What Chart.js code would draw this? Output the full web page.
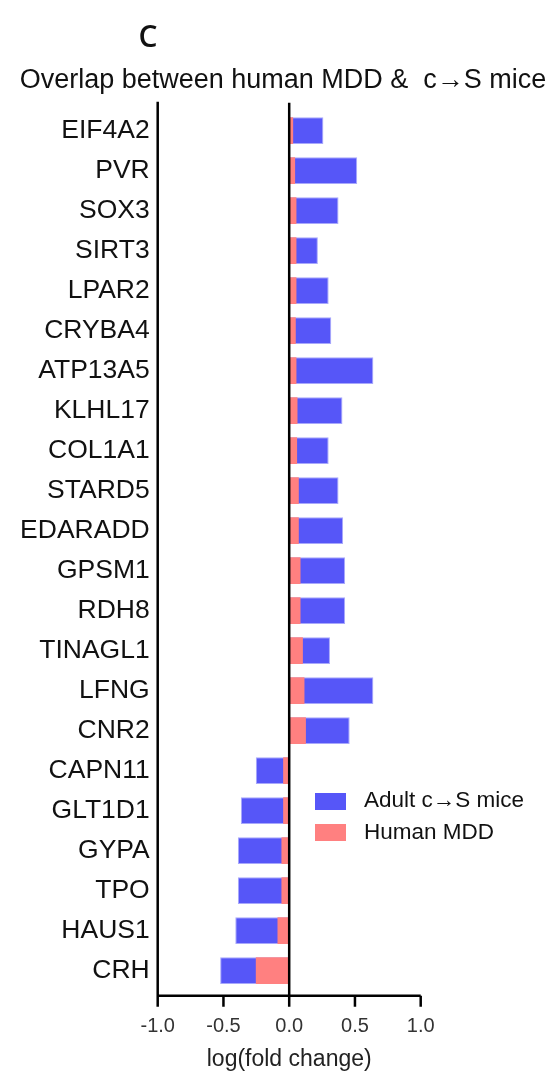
<!DOCTYPE html>
<html>
<head>
<meta charset="utf-8">
<script src="https://cdn.jsdelivr.net/npm/chart.js"></script>
<style>
    html, body { margin: 0; padding: 0; background: #fff; }
    #wrap { position: relative; width: 556px; height: 1076px; }
    .txt { position: absolute; white-space: nowrap; color: #111; }
    #panel { font-family: "Open Sans", sans-serif; font-size: 30px; font-weight: 600; line-height: 30px; left: 148px; top: 21px; transform: translateX(-50%); }
    #subtitle { font-family: "Liberation Sans", Arial, sans-serif; font-size: 27px; line-height: 27px; left: 283px; top: 66px; transform: translateX(-50%); }
    .lbox { position: absolute; width: 31px; height: 17px; left: 315px; }
    .ltxt { font-family: "Liberation Sans", Arial, sans-serif; font-size: 22.5px; line-height: 22px; left: 364px; }
</style>
</head>
<body>
<div id="wrap">
    <canvas id="barChart"></canvas>
    <div id="panel" class="txt">C</div>
    <div id="subtitle" class="txt">Overlap between human MDD &amp;&nbsp; c→S mice</div>
    <div class="lbox" style="top: 793px; background: #5656f8;"></div>
    <div class="ltxt txt" style="top: 789px;">Adult c→S mice</div>
    <div class="lbox" style="top: 824px; background: #ff8080;"></div>
    <div class="ltxt txt" style="top: 821px;">Human MDD</div>
</div>
<script>
// Гены (сверху вниз)
const genes = ['EIF4A2', 'PVR', 'SOX3', 'SIRT3', 'LPAR2', 'CRYBA4', 'ATP13A5', 'KLHL17', 'COL1A1', 'STARD5',
    'EDARADD', 'GPSM1', 'RDH8', 'TINAGL1', 'LFNG', 'CNR2', 'CAPN11', 'GLT1D1', 'GYPA', 'TPO', 'HAUS1', 'CRH'];

// log(fold change)
const miceValues = [0.26, 0.517, 0.375, 0.218, 0.30, 0.32, 0.64, 0.405, 0.30, 0.375,
    0.41, 0.425, 0.425, 0.31, 0.64, 0.46, -0.254, -0.368, -0.39, -0.39, -0.41, -0.525];
const humanValues = [0.03, 0.045, 0.055, 0.055, 0.055, 0.05, 0.055, 0.063, 0.06, 0.073,
    0.073, 0.086, 0.086, 0.104, 0.116, 0.127, -0.046, -0.046, -0.059, -0.059, -0.089, -0.254];

const xTicks = [-1, -0.5, 0, 0.5, 1];

const labelFont = "'Liberation Sans', Arial, sans-serif";

// Оси рисуем сами: линия слева, ноль и нижняя ось с засечками
const axisLines = {
    id: 'axisLines',
    afterDatasetsDraw(chart) {
        const {ctx, chartArea, scales} = chart;
        const xs = scales.x;
        const yAxis = chartArea.bottom + 5;
        ctx.save();
        ctx.strokeStyle = '#000';
        ctx.lineWidth = 2.5;
        ctx.beginPath();
        ctx.moveTo(chartArea.left, chartArea.top - 9);
        ctx.lineTo(chartArea.left, yAxis);
        ctx.lineTo(chartArea.right, yAxis);
        const x0 = xs.getPixelForValue(0);
        ctx.moveTo(x0, chartArea.top - 8);
        ctx.lineTo(x0, yAxis);
        xTicks.forEach(v => {
            const px = xs.getPixelForValue(v);
            ctx.moveTo(px, yAxis);
            ctx.lineTo(px, yAxis + 11);
        });
        ctx.stroke();
        ctx.restore();
    }
};

const barCtx = document.getElementById('barChart').getContext('2d');

const barChart = new Chart(barCtx, {
    type: 'bar',
    data: {
        labels: genes,
        datasets: [{
            label: 'Human MDD',
            data: humanValues,
            backgroundColor: '#ff8080',
            grouped: false,
            order: 0
        }, {
            label: 'Adult c→S mice',
            data: miceValues,
            backgroundColor: '#5656f8',
            borderColor: '#a8a8fb',
            borderWidth: 1,
            borderSkipped: 'start',
            grouped: false,
            order: 1
        }]
    },
    options: {
        indexAxis: 'y',
        responsive: true,
        maintainAspectRatio: false,
        animation: false,
        categoryPercentage: 1,
        barPercentage: 0.67,
        layout: {
            padding: {top: 110.7, right: 135.3, bottom: 0, left: 0}
        },
        plugins: {
            legend: {display: false},
            tooltip: {enabled: false}
        },
        scales: {
            y: {
                grid: {display: false, drawTicks: false},
                border: {display: false},
                ticks: {
                    color: '#111',
                    padding: 8,
                    font: {family: labelFont, size: 26.5}
                },
                afterFit(scale) { scale.width = 157.7; }
            },
            x: {
                min: -1,
                max: 1,
                grid: {display: false, drawTicks: false},
                border: {display: false},
                afterBuildTicks(scale) { scale.ticks = xTicks.map(v => ({value: v})); },
                ticks: {
                    color: '#333',
                    padding: 24,
                    font: {family: labelFont, size: 20},
                    callback: v => v.toFixed(1)
                },
                title: {
                    display: true,
                    text: 'log(fold change)',
                    color: '#222',
                    padding: {top: 0, bottom: 3},
                    font: {family: labelFont, size: 23}
                },
                afterFit(scale) { scale.height = 85.3; }
            }
        }
    },
    plugins: [axisLines]
});
</script>
</body>
</html>
